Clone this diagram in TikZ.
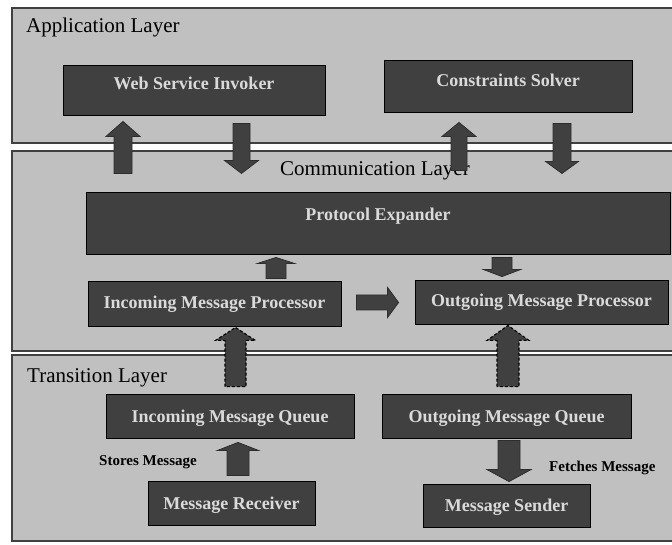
\documentclass[tikz,border=0pt]{standalone}
\usepackage{fontspec}
\setmainfont{Liberation Serif}
\usetikzlibrary{calc,positioning}
\definecolor{layergray}{RGB}{192,192,192}
\definecolor{boxgray}{RGB}{64,64,64}
\definecolor{textgray}{RGB}{218,218,218}

\begin{document}
\begin{tikzpicture}[x=1pt, y=1pt,
    layer/.style={rectangle, draw=boxgray, line width=1.2pt, fill=layergray, inner sep=0pt},
    box/.style={rectangle, draw=black, line width=0.9pt, fill=boxgray, text=textgray, inner sep=0pt,
        font=\fontsize{18}{20}\selectfont\bfseries, text height=12pt, text depth=0pt},
    title/.style={font=\fontsize{21}{24}\selectfont, inner sep=0pt},
    note/.style={font=\fontsize{15}{17}\selectfont\bfseries, inner sep=0pt},
    blk/.style n args={3}{draw=boxgray!70!black, line width=0.8pt, fill=boxgray,
        to path={let \p1=(\tikztostart), \p2=(\tikztotarget),
            \n1={veclen(\x2-\x1,\y2-\y1)}, \n2={(\x2-\x1)/\n1}, \n3={(\y2-\y1)/\n1} in
            ({\x1-#1*\n3},{\y1+#1*\n2}) -- ({\x2-#3*\n2-#1*\n3},{\y2-#3*\n3+#1*\n2})
            -- ({\x2-#3*\n2-#2*\n3},{\y2-#3*\n3+#2*\n2}) -- (\x2,\y2)
            -- ({\x2-#3*\n2+#2*\n3},{\y2-#3*\n3-#2*\n2}) -- ({\x2-#3*\n2+#1*\n3},{\y2-#3*\n3-#1*\n2})
            -- ({\x1+#1*\n3},{\y1-#1*\n2}) -- cycle}},
    dashblk/.style={draw=black, line width=1.1pt, dash pattern=on 3pt off 2pt}]

    \useasboundingbox (0,0) rectangle (672,544);
    \clip (0,0) rectangle (672,544);

    % layers
    \node[layer, minimum width=678pt, minimum height=135pt] (applayer) at (351,468.5) {};
    \node[layer, minimum width=678pt, minimum height=200pt] (commlayer) at (351,293) {};
    \node[layer, minimum width=678pt, minimum height=186pt] (translayer) at (351,96) {};

    \node[title, anchor=base west] (apptitle) at (26,511) {Application Layer};
    \node[title, anchor=base] (commtitle) at (375,368) {Communication Layer};
    \node[title, anchor=base west] (transtitle) at (27,161) {Transition Layer};

    % application layer
    \node[box, minimum width=262pt, minimum height=50pt, text depth=12pt] (invoker) at (194,454) {Web Service Invoker};
    \node[box, minimum width=248pt, minimum height=52pt, text depth=11pt] (solver) at (508,458) {Constraints Solver};

    % communication layer
    \node[box, minimum width=584pt, minimum height=62pt, text depth=16pt] (expander) at (378,321) {Protocol Expander};
    \node[box, minimum width=253pt, minimum height=45pt, text depth=2pt] (inproc) at (214.5,240.5) {Incoming Message Processor};
    \node[box, minimum width=253pt, minimum height=44pt, text depth=2pt] (outproc) at (541.5,242) {Outgoing Message Processor};

    % transition layer
    \node[box, minimum width=248pt, minimum height=44pt] (inqueue) at (230,128) {Incoming Message Queue};
    \node[box, minimum width=249pt, minimum height=44pt] (outqueue) at (506.5,128) {Outgoing Message Queue};
    \node[box, minimum width=167pt, minimum height=44pt] (receiver) at (231.5,41) {Message Receiver};
    \node[box, minimum width=167pt, minimum height=43pt] (sender) at (506.5,38.5) {Message Sender};

    \node[note, anchor=base west] (stores) at (99,79) {Stores Message};
    \node[note, anchor=base west] (fetches) at (549,73) {Fetches Message};

    % between application and communication layer
    \draw[blk={9}{17}{15}] ([shift={(-71,-58)}]invoker.south) to ([shift={(-71,-6)}]invoker.south);
    \draw[blk={8.5}{17}{13}] ([shift={(47.5,-8)}]invoker.south) to ([shift={(47.5,-58)}]invoker.south);
    \draw[blk={8}{17}{14}] ([shift={(-49,-58)}]solver.south) to ([shift={(-49,-10)}]solver.south);
    \draw[blk={9}{16.5}{12}] ([shift={(54,-11)}]solver.south) to ([shift={(54,-61)}]solver.south);

    % inside communication layer
    \draw[blk={10}{18.5}{6}] ([shift={(61.5,2)}]inproc.north) to ([shift={(-102,-3)}]expander.south);
    \draw[blk={10}{18.5}{7}] ([shift={(124,-3)}]expander.south) to ([shift={(-39.5,3)}]outproc.north);
    \draw[blk={7.5}{15}{11}] ([shift={(15,1)}]inproc.east) to ([shift={(-16,-0.5)}]outproc.west);

    % from transition layer
    \draw[blk={10.5}{20}{13}, dashblk] ([shift={(5.5,7)}]inqueue.north) to ([shift={(21,-1)}]inproc.south);
    \draw[blk={11}{21}{15}, dashblk] ([shift={(1.5,7)}]outqueue.north) to ([shift={(-33.5,-1)}]outproc.south);
    \draw[blk={11}{20.5}{8}] ([shift={(6.5,5)}]receiver.north) to ([shift={(8,-4)}]inqueue.south);
    \draw[blk={11}{22}{12}] ([shift={(2.5,-2)}]outqueue.south) to ([shift={(2.5,2)}]sender.north);
\end{tikzpicture}
\end{document}
